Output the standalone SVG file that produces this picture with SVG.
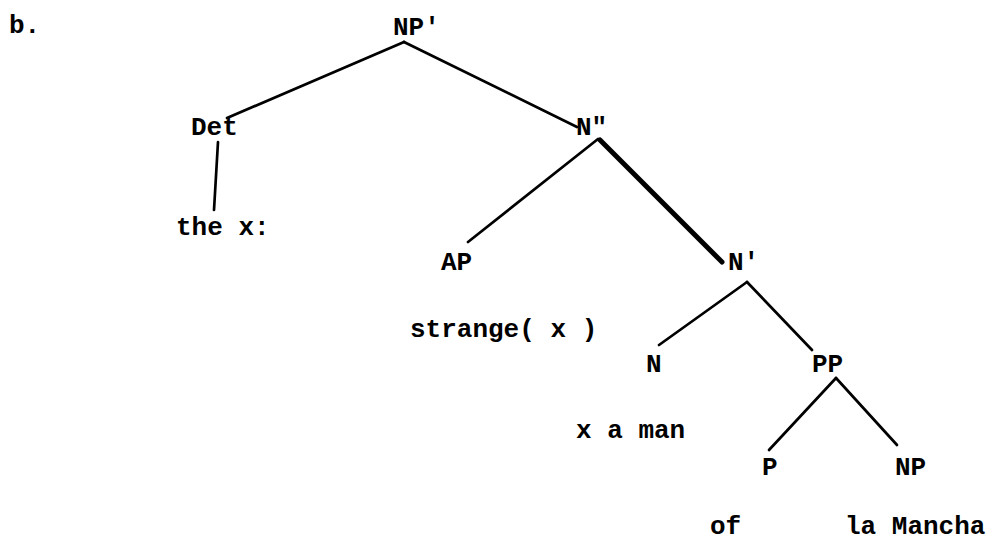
<svg xmlns="http://www.w3.org/2000/svg" width="998" height="542" viewBox="0 0 998 542">
<style>
text{font-family:"Liberation Mono","DejaVu Sans Mono",monospace;font-size:26px;font-weight:bold;fill:#000}
.e{stroke:#000;stroke-width:2.7;stroke-linecap:round;fill:none}
.t{stroke-width:5}
</style>
<rect width="998" height="542" fill="#fff"/>
<text x="9" y="33">b.</text>
<g id="connectors">
<line class="e" x1="404" y1="42" x2="227" y2="118"/>
<line class="e" x1="404" y1="42" x2="577" y2="127"/>
<line class="e" x1="218" y1="142" x2="214" y2="210"/>
<line class="e" x1="598" y1="139" x2="468" y2="242"/>
<line class="e t" x1="600" y1="140" x2="722" y2="262"/>
<line class="e" x1="747" y1="282" x2="659" y2="345"/>
<line class="e" x1="747" y1="282" x2="812" y2="350"/>
<line class="e" x1="836" y1="378" x2="769" y2="450"/>
<line class="e" x1="836" y1="378" x2="897" y2="445"/>
</g>
<g id="np-bar"><text x="393" y="35">NP'</text></g>
<g id="det"><text x="191" y="135">Det</text></g>
<g id="the-x"><text x="176" y="235">the x:</text></g>
<g id="n-double"><text x="576" y="135">N"</text></g>
<g id="ap"><text x="441" y="270">AP</text></g>
<g id="n-prime"><text x="728" y="270">N'</text></g>
<g id="strange"><text x="410" y="337">strange( x )</text></g>
<g id="n"><text x="646" y="372">N</text></g>
<g id="pp"><text x="812" y="372">PP</text></g>
<g id="x-a-man"><text x="576" y="438">x a man</text></g>
<g id="p"><text x="762" y="475">P</text></g>
<g id="np"><text x="895" y="475">NP</text></g>
<g id="of"><text x="710" y="534">of</text></g>
<g id="la-mancha"><text x="845" y="534">la Mancha</text></g>
</svg>
